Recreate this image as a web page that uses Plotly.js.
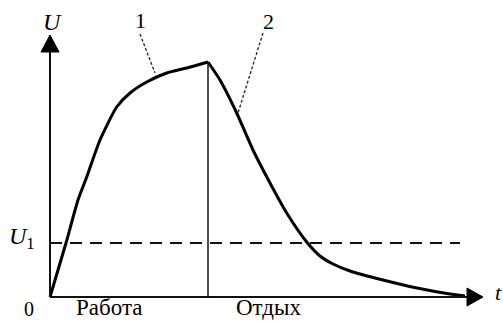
<!DOCTYPE html>
<html>
<head>
<meta charset="utf-8">
<script src="https://cdn.plot.ly/plotly-3.0.1.min.js"></script>
<style>html,body{margin:0;padding:0;background:#fff;}#chart{width:503px;height:321px;}</style>
</head>
<body>
<div id="chart"></div>
<script>
// Work phase (curve 1)
const workT = [0, 1.6, 2.8, 3.67, 5.0, 6.67, 8.0, 9.67, 11.67, 13.67, 15.8];
const workU = [0, 5.4, 9.7, 12.0, 15.7, 19.0, 20.4, 21.5, 22.4, 22.9, 23.5];
// Rest phase (curve 2)
const restT = [15.8, 17.0, 18.67, 20.3, 22.0, 23.67, 25.67, 27.0, 28.3, 30.0, 33.3, 36.7, 40.0, 41.5];
const restU = [23.5, 21.7, 18.4, 14.7, 11.4, 8.4, 5.5, 4.1, 3.3, 2.6, 1.7, 0.9, 0.3, 0.1];
// Threshold level U1
const thresholdU = 5.4;
const thresholdEnd = 41.0;
// Axis extents
const tAxisEnd = 43.3;
const uAxisEnd = 26.2;
// Labels
const phaseLabels = ["Работа", "Отдых"];
const curveLabels = ["1", "2"];

const peakT = workT[workT.length - 1];
const peakU = workU[workU.length - 1];

const traces = [
  {x: workT, y: workU, mode: 'lines', line: {color: '#000', width: 3, shape: 'spline', smoothing: 0.6}, hoverinfo: 'skip'},
  {x: restT, y: restU, mode: 'lines', line: {color: '#000', width: 3, shape: 'spline', smoothing: 0.6}, hoverinfo: 'skip'}
];

const serif = 'Liberation Serif';

const shapes = [
  // y axis
  {type: 'line', x0: 0, x1: 0, y0: 0, y1: uAxisEnd - 1.5, line: {color: '#111', width: 2}},
  {type: 'path', xref: 'x', yref: 'y', xsizemode: 'pixel', ysizemode: 'pixel', xanchor: 0, yanchor: uAxisEnd,
   path: 'M-9,-17 L0,0 L9,-17 Z', fillcolor: '#000', line: {color: '#000', width: 1}},
  // x axis
  {type: 'line', x0: 0, x1: tAxisEnd - 1.5, y0: 0, y1: 0, line: {color: '#111', width: 2}},
  {type: 'path', xref: 'x', yref: 'y', xsizemode: 'pixel', ysizemode: 'pixel', xanchor: tAxisEnd, yanchor: 0,
   path: 'M-16,9 L0,0 L-16,-9 Z', fillcolor: '#000', line: {color: '#000', width: 1}},
  // vertical separator at end of work
  {type: 'line', x0: peakT, x1: peakT, y0: 0, y1: peakU, line: {color: '#111', width: 1.5}},
  // threshold U1
  {type: 'line', x0: 0, x1: thresholdEnd, y0: thresholdU, y1: thresholdU, line: {color: '#111', width: 2, dash: '12px,8px'}},
  // leader lines
  {type: 'line', x0: 9.0, y0: 26.3, x1: 10.5, y1: 22.4, line: {color: '#222', width: 1.3, dash: '3px,2px'}},
  {type: 'line', x0: 21.3, y0: 26.4, x1: 18.8, y1: 18.4, line: {color: '#222', width: 1.3, dash: '3px,2px'}}
];

const ann = (x, y, text, font, extra) => Object.assign({x, y, xref: 'x', yref: 'y', text, showarrow: false, font}, extra || {});

const annotations = [
  ann(0.2, 27.5, '<i>U</i>', {family: serif, size: 24, color: '#000'}),
  ann(-1.3, 5.9, '<i>U</i><sub>1</sub>', {family: serif, size: 24, color: '#000'}, {xanchor: 'right'}),
  ann(-2.1, -1.2, '0', {family: serif, size: 20, color: '#000'}),
  ann(5.9, -1.05, phaseLabels[0], {family: serif, size: 23, color: '#000'}),
  ann(21.9, -1.05, phaseLabels[1], {family: serif, size: 23, color: '#000'}),
  ann(9.0, 27.7, curveLabels[0], {family: serif, size: 22, color: '#000'}),
  ann(21.8, 27.6, curveLabels[1], {family: serif, size: 22, color: '#000'}),
  ann(44.8, 0.5, '<i>t</i>', {family: serif, size: 22, color: '#000'})
];

const layout = {
  width: 503, height: 321,
  margin: {l: 0, r: 0, t: 0, b: 0, pad: 0},
  paper_bgcolor: '#fff', plot_bgcolor: '#fff',
  showlegend: false,
  xaxis: {range: [-5, 45.3], visible: false, fixedrange: true},
  yaxis: {range: [-2.4, 29.7], visible: false, fixedrange: true},
  shapes, annotations
};

Plotly.newPlot('chart', traces, layout, {displayModeBar: false, staticPlot: true});
</script>
</body>
</html>
